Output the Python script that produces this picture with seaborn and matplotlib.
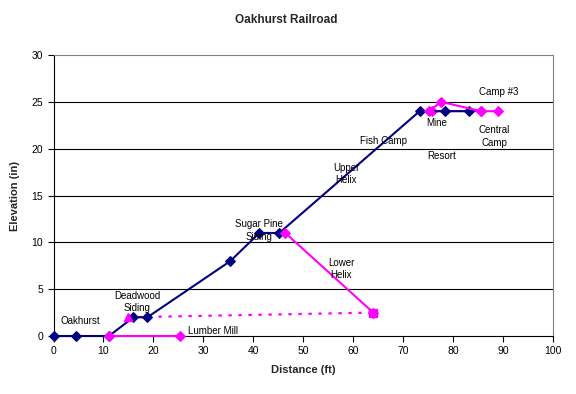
import numpy as np
import pandas as pd
import matplotlib
matplotlib.use("Agg")
import matplotlib.pyplot as plt
import seaborn as sns

# main line (navy)
main_x = [0, 4.5, 11.1, 16.0, 18.8, 35.4, 41.2, 45.2, 73.3, 78.4, 83.1]
main_y = [0, 0, 0, 2, 2, 8, 11, 11, 24, 24, 24]

# branch lines (magenta)
lumber_x = [11.1, 25.4]
lumber_y = [0, 0]
spur_x = [15.0, 64.0]
spur_y = [2, 2.5]
lower_x = [46.4, 64.0]
lower_y = [11, 2.5]
camp_x = [75.1, 77.6, 85.6, 89.0]
camp_y = [24, 25, 24, 24]
mine_x = [75.8, 85.6]
mine_y = [24, 24]

# station labels (text, x, y)
labels = ["Oakhurst", "Deadwood\nSiding", "Lumber Mill", "Sugar Pine\nSiding", "Lower\nHelix",
          "Upper\nHelix", "Fish Camp", "Resort", "Mine", "Central\nCamp", "Camp #3"]
label_x = [1.4, 16.8, 26.9, 41.1, 57.6, 58.6, 66.1, 77.6, 76.7, 88.3, 89.2]
label_y = [1.6, 3.65, 0.5, 11.26, 7.17, 17.3, 20.8, 19.2, 22.7, 21.3, 26.1]
label_ha = ["left", "center", "left", "center", "center", "center", "center", "center",
            "center", "center", "center"]

sns.set_style("white")
plt.rcParams['font.family'] = ['Liberation Sans', 'DejaVu Sans']

fig = plt.figure(figsize=(5.76, 3.94), dpi=100)
ax = fig.add_axes([0.0929, 0.1472, 0.9601 - 0.0929, 0.8604 - 0.1472])

navy = "#000080"
mag = "#FF00FF"

# horizontal grid
for g in [5, 10, 15, 20, 25]:
    ax.axhline(g, color="black", lw=0.8, zorder=0)

kw = dict(sort=False, estimator=None, ax=ax, lw=1.5, marker="D", markersize=5.5, clip_on=False)

sns.lineplot(x=spur_x, y=spur_y, sort=False, estimator=None, ax=ax, color=mag, lw=1.6,
             linestyle=(0, (1.5, 3)), zorder=2)
sns.lineplot(x=main_x, y=main_y, color=navy, markeredgecolor=navy, zorder=3, **kw)
sns.lineplot(x=mine_x, y=mine_y, color=mag, markeredgecolor=mag, zorder=2.8, **kw)
sns.lineplot(x=camp_x, y=camp_y, color=mag, markeredgecolor=mag, zorder=3.2, **kw)
sns.lineplot(x=lower_x, y=lower_y, color=mag, markeredgecolor=mag, zorder=3.2, **kw)
sns.lineplot(x=lumber_x, y=lumber_y, color=mag, markeredgecolor=mag, zorder=3.2, **kw)
ax.plot(spur_x[:1], spur_y[:1], marker="^", color=mag, ms=6, zorder=3.5, clip_on=False)
ax.plot(lower_x[-1:], lower_y[-1:], marker="s", color=mag, ms=5.5, zorder=3.5, clip_on=False)

for t, x, y, ha in zip(labels, label_x, label_y, label_ha):
    ax.text(x, y, t, ha=ha, va="center", fontsize=7, color="black", linespacing=1.3, zorder=5)

ax.set_xlim(0, 100)
ax.set_ylim(0, 30)
ax.set_xticks(np.arange(0, 101, 10))
ax.set_yticks(np.arange(0, 31, 5))
ax.tick_params(axis="both", direction="out", length=4, width=0.8, labelsize=7.5,
               bottom=True, left=True, colors="black")
for s in ["left", "bottom"]:
    ax.spines[s].set_color("black")
    ax.spines[s].set_linewidth(0.8)
for s in ["top", "right"]:
    ax.spines[s].set_color("#808080")
    ax.spines[s].set_linewidth(0.8)

ax.set_xlabel("Distance (ft)", fontsize=8, fontweight="bold", labelpad=6)
ax.set_ylabel("Elevation (in)", fontsize=8, fontweight="bold", labelpad=8)
fig.suptitle("Oakhurst Railroad", x=0.497, y=0.965, fontsize=8.5, fontweight="bold")

fig.savefig("out.png", dpi=100)
